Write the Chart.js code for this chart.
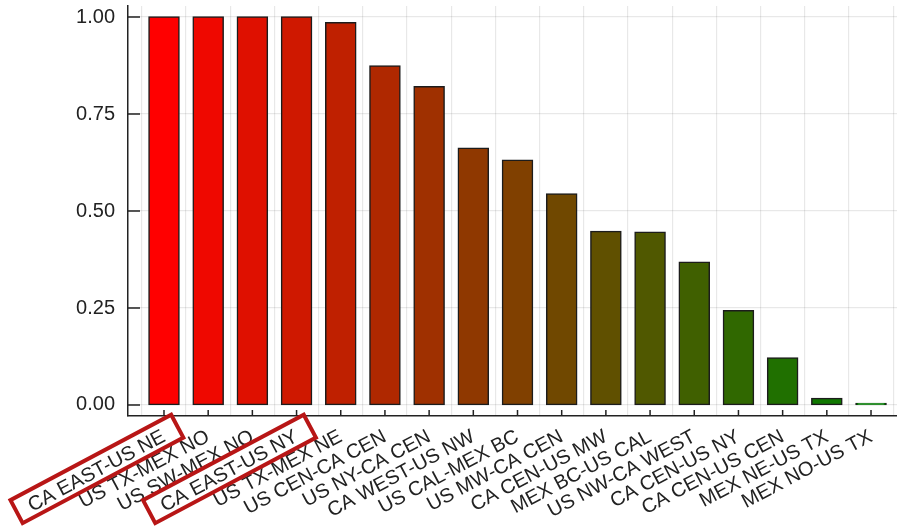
<!DOCTYPE html>
<html>
<head>
<meta charset="utf-8">
<script src="https://cdn.jsdelivr.net/npm/chart.js@4/dist/chart.umd.min.js"></script>
<style>
  html, body { margin: 0; padding: 0; background: #fff; }
  #wrap { width: 897px; height: 530px; position: relative; }
</style>
</head>
<body>
<div id="wrap"><canvas id="c" width="897" height="530"></canvas></div>
<script>
// Interconnection pairs, sorted by share
const categories = [
  'CA EAST-US NE', 'US TX-MEX NO', 'US SW-MEX NO', 'CA EAST-US NY', 'US TX-MEX NE',
  'US CEN-CA CEN', 'US NY-CA CEN', 'CA WEST-US NW', 'US CAL-MEX BC', 'US MW-CA CEN',
  'CA CEN-US MW', 'MEX BC-US CAL', 'US NW-CA WEST', 'CA CEN-US NY', 'CA CEN-US CEN',
  'MEX NE-US TX', 'MEX NO-US TX'
];
const shares = [
  1.000, 1.000, 1.000, 1.000, 0.985,
  0.874, 0.820, 0.662, 0.631, 0.544,
  0.447, 0.445, 0.368, 0.243, 0.121,
  0.017, 0.004
];
const yTicks = [0, 0.25, 0.5, 0.75, 1.0];
const yTickLabels = ['0.00', '0.25', '0.50', '0.75', '1.00'];
// Labels outlined with a box
const highlighted = ['CA EAST-US NE', 'CA EAST-US NY'];

const FONT = { family: '"Liberation Sans", Arial, sans-serif', size: 20 };
const TEXT = '#222';
const ROT = 28;

// red -> green ramp along the bar order
function rampColor(i, n) {
  const t = i / (n - 1);
  const r = Math.round(255 * (1 - t));
  const g = Math.round(128 * t);
  return `rgb(${r},${g},0)`;
}

const points = shares.map((v, i) => ({ x: i + 1, y: v }));

// inward tick marks for both axes
const innerTicks = {
  id: 'innerTicks',
  afterDatasetsDraw(chart) {
    const { ctx, scales: { x, y }, chartArea } = chart;
    ctx.save();
    ctx.strokeStyle = '#222';
    ctx.lineWidth = 1.5;
    ctx.beginPath();
    x.ticks.forEach(t => {
      const px = x.getPixelForValue(t.value);
      ctx.moveTo(px, chartArea.bottom);
      ctx.lineTo(px, chartArea.bottom - 6);
    });
    y.ticks.forEach(t => {
      const py = y.getPixelForValue(t.value);
      ctx.moveTo(chartArea.left, py);
      ctx.lineTo(chartArea.left + 12, py);
    });
    ctx.stroke();
    ctx.restore();
  }
};

// rotated boxes around selected category labels
const labelBoxes = {
  id: 'labelBoxes',
  afterDraw(chart) {
    const { ctx, scales: { x }, chartArea } = chart;
    const a = ROT * Math.PI / 180;
    ctx.save();
    ctx.strokeStyle = '#b81616';
    ctx.lineWidth = 4;
    highlighted.forEach(name => {
      const i = categories.indexOf(name);
      if (i < 0) return;
      const px = x.getPixelForValue(i + 1);
      ctx.save();
      ctx.translate(px + 8, chartArea.bottom - 4);
      ctx.rotate(-a);
      ctx.strokeRect(-184, 2, 182, 26);
      ctx.restore();
    });
    ctx.restore();
  }
};

new Chart(document.getElementById('c'), {
  type: 'bar',
  data: {
    datasets: [{
      data: points,
      backgroundColor: ctx => rampColor(ctx.dataIndex, shares.length),
      borderColor: '#1c1c1c',
      borderWidth: 1.5,
      borderSkipped: false,
      inflateAmount: 0.75,
      barPercentage: 0.68,
      categoryPercentage: 1.0
    }]
  },
  options: {
    responsive: false,
    animation: false,
    devicePixelRatio: 1,
    layout: { padding: { top: 6, right: 0, bottom: 0, left: 0 } },
    plugins: { legend: { display: false }, tooltip: { enabled: false } },
    scales: {
      x: {
        type: 'linear',
        offset: false,
        min: 0.1855,
        max: 17.588,
        afterBuildTicks: s => { s.ticks = categories.map((_, i) => ({ value: i + 1 })); },
        afterFit: s => { s.height = 114; s.paddingLeft = 0; s.paddingRight = 0; },
        grid: { color: 'rgba(0,0,0,0.09)', lineWidth: 1.2, drawTicks: false },
        border: { display: true, color: '#222', width: 1.5 },
        ticks: {
          autoSkip: false,
          minRotation: ROT,
          maxRotation: ROT,
          padding: 9,
          color: TEXT,
          font: FONT,
          callback: v => categories[Math.round(v) - 1]
        }
      },
      y: {
        min: -0.0284,
        max: 1.0284,
        afterBuildTicks: s => { s.ticks = yTicks.map(v => ({ value: v })); },
        afterFit: s => { s.width = 128; s.paddingTop = 0; s.paddingBottom = 0; },
        grid: { color: 'rgba(0,0,0,0.09)', lineWidth: 1.2, drawTicks: false },
        border: { display: true, color: '#222', width: 1.5 },
        ticks: {
          padding: 13,
          color: TEXT,
          font: FONT,
          callback: v => yTickLabels[yTicks.indexOf(v)]
        }
      }
    }
  },
  plugins: [innerTicks, labelBoxes]
});
</script>
</body>
</html>
